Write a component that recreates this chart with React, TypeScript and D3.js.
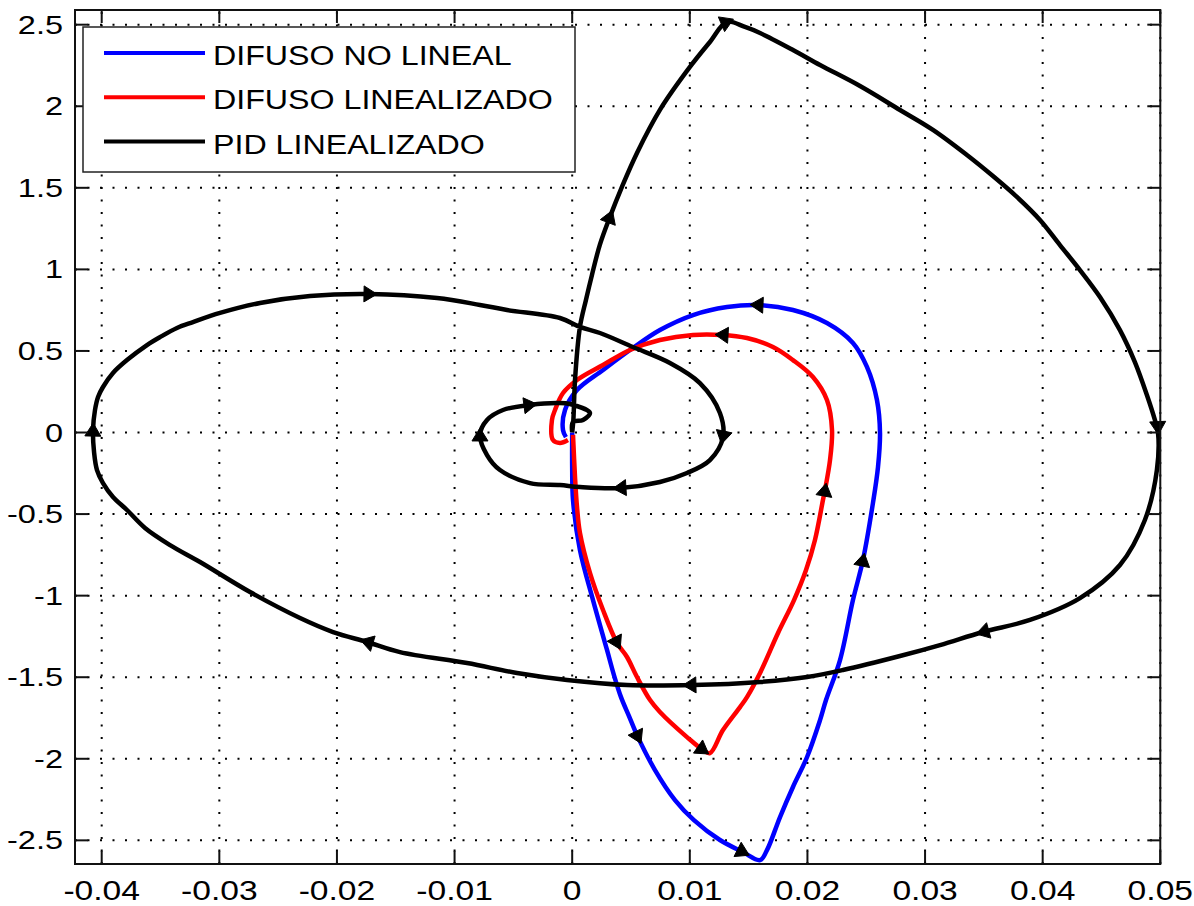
import React from "react";
import * as d3 from "d3";

// ---------- data ----------
const xTicks = [-0.04, -0.03, -0.02, -0.01, 0, 0.01, 0.02, 0.03, 0.04, 0.05];
const xTickLabels = ["-0.04", "-0.03", "-0.02", "-0.01", "0", "0.01", "0.02", "0.03", "0.04", "0.05"];
const yTicks = [-2.5, -2, -1.5, -1, -0.5, 0, 0.5, 1, 1.5, 2, 2.5];
const yTickLabels = ["-2.5", "-2", "-1.5", "-1", "-0.5", "0", "0.5", "1", "1.5", "2", "2.5"];

const seriesNames = ["DIFUSO NO LINEAL", "DIFUSO LINEALIZADO", "PID LINEALIZADO"];
const seriesColors = ["#0000ff", "#ff0000", "#000000"];

// DIFUSO NO LINEAL
const blueX = [0, 0, 0.00007, 0.00066, 0.00177, 0.00296, 0.00355, 0.00415, 0.00483, 0.00559, 0.00704, 0.00874, 0.01035, 0.01256, 0.01452, 0.01597, 0.01656, 0.01767, 0.01877, 0.01997, 0.02107, 0.02158, 0.02277, 0.02387, 0.02472, 0.02557, 0.026, 0.02617, 0.02591, 0.02506, 0.02387, 0.02166, 0.01877, 0.01571, 0.01316, 0.01027, 0.00746, 0.00516, 0.00262, 0.00041, -0.00061, -0.00078, -0.00053];
const blueY = [0, -0.23, -0.414, -0.72, -1.027, -1.333, -1.487, -1.622, -1.738, -1.867, -2.069, -2.253, -2.376, -2.498, -2.572, -2.621, -2.56, -2.357, -2.173, -1.989, -1.763, -1.64, -1.395, -1.027, -0.782, -0.432, -0.211, -0.003, 0.199, 0.402, 0.549, 0.671, 0.751, 0.782, 0.769, 0.72, 0.628, 0.518, 0.383, 0.26, 0.138, 0.015, -0.028];
const blueArrowX = [0.01571, 0.02472, 0.01452, 0.00559];
const blueArrowY = [0.782, -0.782, -2.572, -1.867];

// DIFUSO LINEALIZADO
const redX = [0.00007, 0.00024, 0.00041, 0.00066, 0.00151, 0.00262, 0.00381, 0.00466, 0.00551, 0.00662, 0.00746, 0.00976, 0.01112, 0.01171, 0.01282, 0.01427, 0.01486, 0.01597, 0.0175, 0.01886, 0.01988, 0.02064, 0.02132, 0.02149, 0.02192, 0.02209, 0.02166, 0.02047, 0.01877, 0.01707, 0.01486, 0.01274, 0.01027, 0.00746, 0.00491, 0.00262, 0.00041, -0.00078, -0.00146, -0.00172, -0.00163, -0.00104, -0.00036];
const redY = [-0.015, -0.273, -0.457, -0.616, -0.861, -1.088, -1.29, -1.376, -1.499, -1.64, -1.713, -1.867, -1.946, -1.965, -1.824, -1.683, -1.622, -1.474, -1.229, -1.027, -0.843, -0.659, -0.414, -0.353, -0.169, 0.015, 0.199, 0.34, 0.444, 0.524, 0.579, 0.598, 0.598, 0.567, 0.506, 0.414, 0.322, 0.242, 0.138, 0.077, -0.046, -0.064, -0.046];
const redArrowX = [0.01274, 0.02149, 0.01112, 0.00381];
const redArrowY = [0.598, -0.353, -1.946, -1.29];

// PID LINEALIZADO
const pidX = [0, 0.0001, 0.00024, 0.00066, 0.00117, 0.00168, 0.00235, 0.00321, 0.00423, 0.00551, 0.00746, 0.01001, 0.01171, 0.01316, 0.01469, 0.01597, 0.01877, 0.02107, 0.02447, 0.02787, 0.03067, 0.03356, 0.03577, 0.03781, 0.03977, 0.04147, 0.04317, 0.04487, 0.04657, 0.04784, 0.04886, 0.04954, 0.0498, 0.04971, 0.04869, 0.04657, 0.04317, 0.03892, 0.03492, 0.03127, 0.02787, 0.02302, 0.01997, 0.01597, 0.01027, 0.00466, -0.00044, -0.00469, -0.00894, -0.01464, -0.01744, -0.02033, -0.02314, -0.02739, -0.03164, -0.03419, -0.03632, -0.03785, -0.03904, -0.03989, -0.0404, -0.04065, -0.04074, -0.04057, -0.04031, -0.03989, -0.03904, -0.03785, -0.03615, -0.03504, -0.0336, -0.03224, -0.02994, -0.02654, -0.02229, -0.01719, -0.01149, -0.00784, -0.00554, -0.00104, 0.00066, 0.00236, 0.00516, 0.00831, 0.01086, 0.01256, 0.01282, 0.01171, 0.00976, 0.00746, 0.00406, 0.00066, -0.00104, -0.00359, -0.00614, -0.00724, -0.00784, -0.00724, -0.00588, -0.00359, -0.00129, -0.00019, 0.00151, 0.00092, 0.00007, 0];
const pidY = [0, 0.077, 0.322, 0.647, 0.813, 0.966, 1.15, 1.322, 1.506, 1.714, 1.978, 2.241, 2.394, 2.517, 2.486, 2.449, 2.345, 2.253, 2.124, 1.977, 1.855, 1.701, 1.572, 1.444, 1.303, 1.149, 0.996, 0.831, 0.628, 0.432, 0.23, 0.077, 0.003, -0.23, -0.536, -0.812, -1.015, -1.149, -1.223, -1.303, -1.37, -1.456, -1.499, -1.529, -1.548, -1.548, -1.517, -1.474, -1.413, -1.346, -1.284, -1.223, -1.137, -0.978, -0.794, -0.69, -0.585, -0.475, -0.395, -0.31, -0.23, -0.12, 0.015, 0.138, 0.218, 0.279, 0.365, 0.444, 0.536, 0.585, 0.641, 0.677, 0.733, 0.794, 0.837, 0.849, 0.824, 0.782, 0.751, 0.702, 0.647, 0.61, 0.524, 0.426, 0.303, 0.12, -0.028, -0.169, -0.248, -0.303, -0.34, -0.334, -0.322, -0.31, -0.23, -0.138, -0.015, 0.077, 0.138, 0.169, 0.181, 0.175, 0.12, 0.077, 0.064, 0.003];
const pidArrowX = [0.00321, 0.01316, 0.0498, 0.03492, 0.01001, -0.01744, -0.04074, -0.01719, 0.01282, 0.00406, -0.00784, -0.00359];
const pidArrowY = [1.322, 2.517, 0.03, -1.223, -1.548, -1.284, 0.015, 0.849, -0.028, -0.34, -0.015, 0.169];

// ---------- layout ----------
const W = 1194;
const H = 906;
const L = 75;
const R = 1160.3;
const T = 10;
const B = 864;
const FONT = "'Liberation Sans', Arial, Helvetica, sans-serif";

const xScale = d3.scaleLinear().domain([-0.04227, 0.05]).range([L, R]);
const yScale = d3.scaleLinear().domain([-2.645, 2.59]).range([B, T]);

type Pt = [number, number];

function toPts(xs: number[], ys: number[]): Pt[] {
  return xs.map((x, i) => [xScale(x), yScale(ys[i])] as Pt);
}

const lineGen = d3.line<Pt>().x((d) => d[0]).y((d) => d[1]).curve(d3.curveCatmullRom.alpha(0.5));

function arrowPaths(pts: Pt[], ax: number[], ay: number[]): string[] {
  return ax.map((xv, k) => {
    const px = xScale(xv);
    const py = yScale(ay[k]);
    let best = 0;
    let bd = Infinity;
    pts.forEach((p, i) => {
      const d = (p[0] - px) ** 2 + (p[1] - py) ** 2;
      if (d < bd) {
        bd = d;
        best = i;
      }
    });
    const a = pts[Math.max(best - 1, 0)];
    const b = pts[Math.min(best + 1, pts.length - 1)];
    const ang = Math.atan2(b[1] - a[1], b[0] - a[0]);
    const c = Math.cos(ang);
    const s = Math.sin(ang);
    const tip: Pt = [px + c * 7, py + s * 7];
    const b1: Pt = [px - c * 6 - s * 8, py - s * 6 + c * 8];
    const b2: Pt = [px - c * 6 + s * 8, py - s * 6 - c * 8];
    return `M${tip[0]},${tip[1]}L${b1[0]},${b1[1]}L${b2[0]},${b2[1]}Z`;
  });
}

export default function App() {
  const blue = toPts(blueX, blueY);
  const red = toPts(redX, redY);
  const pid = toPts(pidX, pidY);
  const series = [
    { pts: blue, color: seriesColors[0], arrows: arrowPaths(blue, blueArrowX, blueArrowY) },
    { pts: red, color: seriesColors[1], arrows: arrowPaths(red, redArrowX, redArrowY) },
    { pts: pid, color: seriesColors[2], arrows: arrowPaths(pid, pidArrowX, pidArrowY) },
  ];
  const tickLen = 13;

  return (
    <svg
      width={W}
      height={H}
      style={{ position: "absolute", left: 0, top: 0, display: "block", background: "#fff" }}
    >
      <rect x={0} y={0} width={W} height={H} fill="#fff" />
      {/* grid */}
      <g stroke="#000" strokeWidth={2} strokeDasharray="2 10.5">
        {xTicks.map((t) => (
          <line key={"gx" + t} x1={xScale(t)} x2={xScale(t)} y1={B} y2={T} />
        ))}
        {yTicks.map((t) => (
          <line key={"gy" + t} x1={L} x2={R} y1={yScale(t)} y2={yScale(t)} />
        ))}
      </g>
      {/* curves */}
      {series.map((s, i) => (
        <path key={"c" + i} d={lineGen(s.pts) || ""} fill="none" stroke={s.color} strokeWidth={4.5} strokeLinejoin="round" />
      ))}
      {series.map((s, i) => (
        <g key={"a" + i}>
          {s.arrows.map((d, j) => (
            <path key={j} d={d} fill="#000" stroke="#000" strokeWidth={1} />
          ))}
        </g>
      ))}
      {/* axes box and ticks */}
      <g stroke="#111" strokeWidth={2}>
        <rect x={L} y={T} width={R - L} height={B - T} fill="none" />
        {xTicks.map((t) => (
          <g key={"tx" + t}>
            <line x1={xScale(t)} x2={xScale(t)} y1={B} y2={B - tickLen} />
            <line x1={xScale(t)} x2={xScale(t)} y1={T} y2={T + tickLen} />
          </g>
        ))}
        {yTicks.map((t) => (
          <g key={"ty" + t}>
            <line x1={L} x2={L + tickLen} y1={yScale(t)} y2={yScale(t)} />
            <line x1={R} x2={R - tickLen} y1={yScale(t)} y2={yScale(t)} />
          </g>
        ))}
      </g>
      {/* tick labels */}
      <g fontFamily={FONT} fill="#000">
        {xTicks.map((t, i) => (
          <text
            key={"lx" + t}
            transform={`translate(${xScale(t)},${900}) scale(1.2,1)`}
            textAnchor="middle"
            fontSize={28}
          >
            {xTickLabels[i]}
          </text>
        ))}
        {yTicks.map((t, i) => (
          <text
            key={"ly" + t}
            transform={`translate(${63},${yScale(t) + 9}) scale(1.3,1)`}
            textAnchor="end"
            fontSize={25}
          >
            {yTickLabels[i]}
          </text>
        ))}
      </g>
      {/* legend */}
      <g>
        <rect x={83} y={27} width={492} height={145} fill="#fff" stroke="#222" strokeWidth={1.5} />
        {seriesNames.map((n, i) => {
          const ly = 53 + i * 44.3;
          return (
            <g key={"lg" + i}>
              <line x1={104} x2={205} y1={ly} y2={ly} stroke={seriesColors[i]} strokeWidth={4} />
              <text
                transform={`translate(213,${ly + 12}) scale(1.15,1)`}
                fontFamily={FONT}
                fontSize={28}
                fill="#000"
              >
                {n}
              </text>
            </g>
          );
        })}
      </g>
    </svg>
  );
}
